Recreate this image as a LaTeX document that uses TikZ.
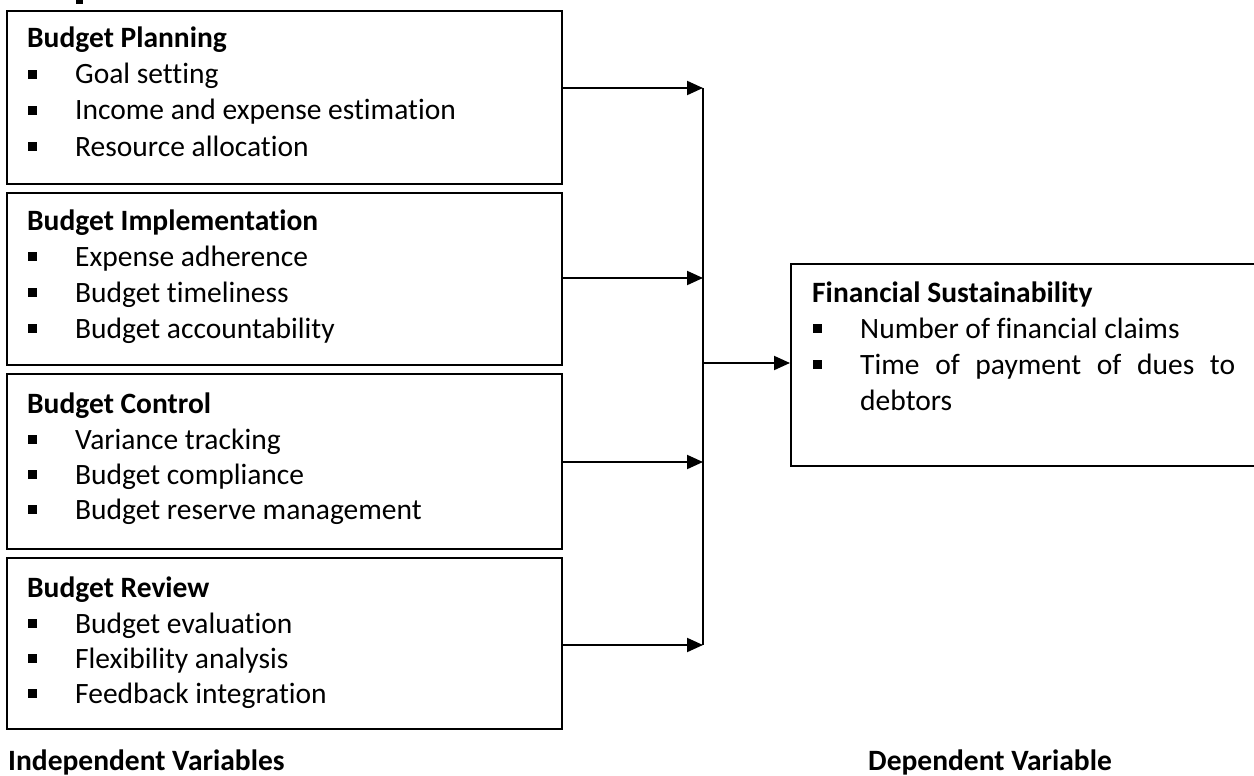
\documentclass[tikz,border=0pt]{standalone}
\usepackage{fontspec}
\setmainfont{Carlito}[Ligatures=NoCommon]
\usetikzlibrary{arrows.meta}
\tikzset{
  box/.style={draw, line width=2pt, anchor=north west, inner sep=0pt},
  txt/.style={anchor=base west, inner sep=0pt},
  hdtxt/.style={anchor=base west, inner sep=0pt, font=\fontsize{29.5}{36}\selectfont\bfseries},
  conn/.style={line width=2pt, -{Triangle[length=16pt,width=14pt]}},
  trunk/.style={line width=2pt},
}
\newcommand{\blt}[2]{\fill (#1,#2-14) rectangle (#1+9,#2-5);}
\begin{document}
\begin{tikzpicture}[x=1pt,y=-1pt,font=\fontsize{29.5}{36}\selectfont]
\useasboundingbox (0,0) rectangle (1254,776);
\clip (0,0) rectangle (1254,776);
\fill[white] (0,0) rectangle (1254,776);
% fragment of cut-off heading above
\fill (76,0) rectangle (83,4);
% boxes
\node[box, minimum width=555pt, minimum height=173pt] (b1) at (6,10) {};
\node[box, minimum width=555pt, minimum height=172pt] (b2) at (6,192) {};
\node[box, minimum width=555pt, minimum height=175pt] (b3) at (6,373) {};
\node[box, minimum width=555pt, minimum height=171pt] (b4) at (6,557) {};
\node[box, minimum width=480pt, minimum height=202pt] (b5) at (790,263) {};
% box 1
\node[hdtxt] (h1) at (27,48) {Budget Planning};
\blt{28}{84}\node[txt] (i11) at (75,84) {Goal setting};
\blt{28}{120}\node[txt] (i12) at (75,120) {Income and expense estimation};
\blt{28}{156}\node[txt] (i13) at (75,156) {Resource allocation};
% box 2
\node[hdtxt] (h2) at (27,230) {Budget Implementation};
\blt{28}{266}\node[txt] (i21) at (75,266) {Expense adherence};
\blt{28}{302}\node[txt] (i22) at (75,302) {Budget timeliness};
\blt{28}{338}\node[txt] (i23) at (75,338) {Budget accountability};
% box 3
\node[hdtxt] (h3) at (27,413) {Budget Control};
\blt{28}{449}\node[txt] (i31) at (75,449) {Variance tracking};
\blt{28}{484}\node[txt] (i32) at (75,484) {Budget compliance};
\blt{28}{519}\node[txt] (i33) at (75,519) {Budget reserve management};
% box 4
\node[hdtxt] (h4) at (27,597) {Budget Review};
\blt{28}{633}\node[txt] (i41) at (75,633) {Budget evaluation};
\blt{28}{668}\node[txt] (i42) at (75,668) {Flexibility analysis};
\blt{28}{703}\node[txt] (i43) at (75,703) {Feedback integration};
% box 5
\node[hdtxt] (h5) at (812,302) {Financial Sustainability};
\blt{813}{338}\node[txt] (i51) at (860,338) {Number of financial claims};
\blt{813}{374}\node[txt] (i52) at (860,374) {\makebox[375pt][s]{Time of payment of dues to}};
\node[txt] (i53) at (860,410) {debtors};
% labels
\node[hdtxt] (lind) at (8,770) {Independent Variables};
\node[hdtxt] (ldep) at (868,770) {Dependent Variable};
% connectors
\coordinate (j1) at (703,88);
\coordinate (j2) at (703,278);
\coordinate (j3) at (703,462);
\coordinate (j4) at (703,645);
\coordinate (jo) at (703,363);
\draw[conn] (b1.east |- j1) -- (j1);
\draw[conn] (b2.east |- j2) -- (j2);
\draw[conn] (b3.east |- j3) -- (j3);
\draw[conn] (b4.east |- j4) -- (j4);
\draw[trunk] (j1) -- (j4);
\draw[conn] (jo) -- (b5.west |- jo);
\end{tikzpicture}
\end{document}
